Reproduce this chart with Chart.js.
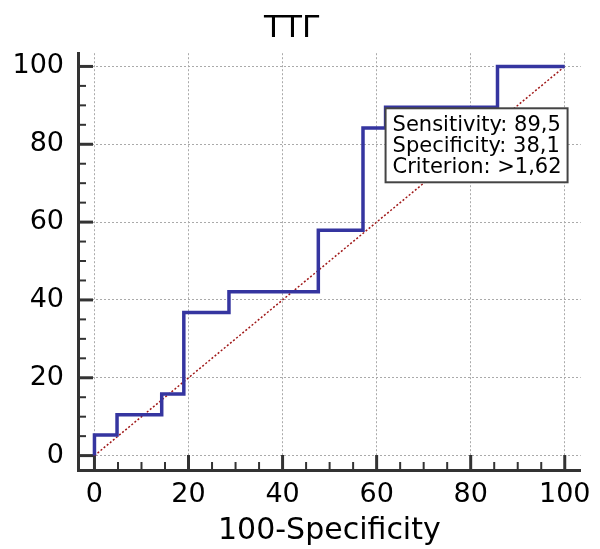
<!DOCTYPE html>
<html>
<head>
<meta charset="utf-8">
<script src="https://cdn.jsdelivr.net/npm/chart.js@4/dist/chart.umd.min.js"></script>
<style>
  html, body { margin: 0; padding: 0; background: #fff; }
  #wrap { width: 600px; height: 549px; position: relative; }
</style>
</head>
<body>
<div id="wrap"><canvas id="canvas"></canvas></div>
<script>
// ROC curve corners (100-Specificity, Sensitivity)
const rocX = [0, 4.8, 14.3, 19.0, 28.6, 47.6, 57.1, 61.9, 85.7, 100];
const rocY = [0, 5.3, 10.5, 15.8, 36.8, 42.1, 57.9, 84.2, 89.5, 100];
// reference diagonal
const diagX = [0, 100];
const diagY = [0, 100];
// tick labels
const xTicks = [0, 20, 40, 60, 80, 100];
const yTicks = [0, 20, 40, 60, 80, 100];
const minorStep = 5;
// optimal cut-off point
const sensitivity = 89.5;
const specificity = 38.1;
const criterion = '>1,62';

const FONT = 'DejaVu Sans';

function fmt(v) {
    return v.toFixed(1).replace('.', ',');
}

// ticks pointing inwards, major + minor
const innerTicks = {
    id: 'innerTicks',
    beforeDatasetsDraw(chart) {
        const ctx = chart.ctx;
        const xs = chart.scales.x, ys = chart.scales.y;
        const area = chart.chartArea;
        ctx.save();
        ctx.strokeStyle = '#333';
        for (let v = 0; v <= 100; v += minorStep) {
            const major = v % 20 === 0;
            const len = major ? 15 : 8;
            ctx.lineWidth = major ? 3 : 2;
            const px = xs.getPixelForValue(v);
            ctx.beginPath();
            ctx.moveTo(px, area.bottom);
            ctx.lineTo(px, area.bottom - len);
            ctx.stroke();
            const py = ys.getPixelForValue(v);
            ctx.beginPath();
            ctx.moveTo(area.left, py);
            ctx.lineTo(area.left + len, py);
            ctx.stroke();
        }
        ctx.restore();
    }
};

// info box at the cut-off point
const infoBox = {
    id: 'infoBox',
    afterDatasetsDraw(chart) {
        const ctx = chart.ctx;
        const x0 = chart.scales.x.getPixelForValue(100 - specificity);
        const y0 = chart.scales.y.getPixelForValue(sensitivity) + 1;
        const lines = [
            'Sensitivity: ' + fmt(sensitivity),
            'Specificity: ' + fmt(specificity),
            'Criterion: ' + criterion
        ];
        const w = 182, h = 74;
        ctx.save();
        ctx.fillStyle = '#fff';
        ctx.fillRect(x0, y0, w, h);
        ctx.strokeStyle = '#444';
        ctx.lineWidth = 2;
        ctx.strokeRect(x0, y0, w, h);
        ctx.fillStyle = '#000';
        ctx.font = '21px "' + FONT + '"';
        ctx.textBaseline = 'alphabetic';
        lines.forEach((t, i) => ctx.fillText(t, x0 + 7, y0 + 23 + i * 21));
        ctx.restore();
    }
};

function fixedTicks(list) {
    return (scale) => {
        scale.ticks = list.map(v => ({ value: v }));
    };
}

const ctx = document.getElementById('canvas').getContext('2d');
const myChart = new Chart(ctx, {
    type: 'line',
    data: {
        datasets: [
            {
                label: 'ROC',
                data: rocX.map((x, i) => ({ x: x, y: rocY[i] })),
                borderColor: '#3535a0',
                borderWidth: 3.5,
                stepped: 'after',
                pointRadius: 0,
                fill: false
            },
            {
                label: 'Diagonal',
                data: diagX.map((x, i) => ({ x: x, y: diagY[i] })),
                borderColor: '#a01818',
                borderWidth: 1.5,
                borderDash: [2, 2],
                pointRadius: 0,
                fill: false
            }
        ]
    },
    options: {
        responsive: true,
        maintainAspectRatio: false,
        animation: false,
        layout: { padding: { left: 0, right: 15, top: 0, bottom: 0 } },
        plugins: {
            legend: { display: false },
            tooltip: { enabled: false },
            title: {
                display: true,
                text: 'ТТГ',
                color: '#000',
                font: { family: FONT, size: 31, weight: 'normal' },
                padding: { top: 10, bottom: 6 }
            }
        },
        scales: {
            x: {
                type: 'linear',
                min: -3.5,
                max: 103.4,
                afterBuildTicks: fixedTicks(xTicks),
                afterFit: (s) => { s.height = 79; },
                grid: { color: '#aaa', lineWidth: 1, drawTicks: false },
                border: { display: true, color: '#333', width: 3, dash: [2, 2] },
                ticks: {
                    color: '#000',
                    padding: 9,
                    maxRotation: 0,
                    font: { family: FONT, size: 27 }
                },
                title: {
                    display: true,
                    text: '100-Specificity',
                    color: '#000',
                    font: { family: FONT, size: 30 },
                    padding: { top: 0, bottom: 0 }
                }
            },
            y: {
                type: 'linear',
                min: -3.7,
                max: 103.4,
                afterBuildTicks: fixedTicks(yTicks),
                afterFit: (s) => { s.width = 78; },
                grid: { color: '#aaa', lineWidth: 1, drawTicks: false },
                border: { display: true, color: '#333', width: 3, dash: [2, 2] },
                ticks: {
                    color: '#000',
                    padding: 14,
                    font: { family: FONT, size: 27 }
                }
            }
        }
    },
    plugins: [innerTicks, infoBox]
});
</script>
</body>
</html>
